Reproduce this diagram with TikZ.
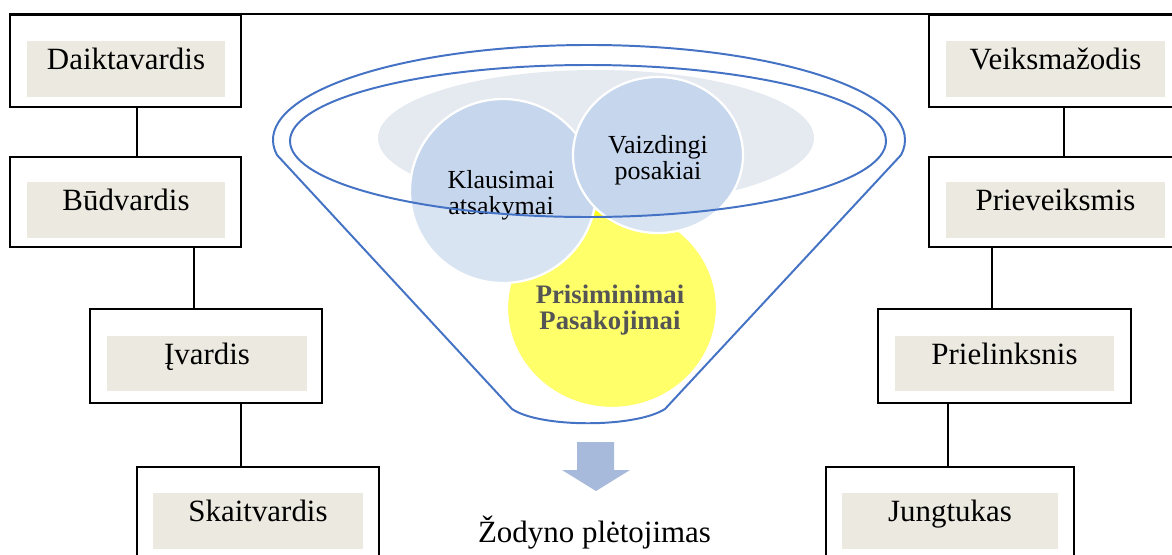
\documentclass[tikz,border=0pt]{standalone}
\usepackage{fontspec}
\setmainfont{Liberation Serif}
\usepackage{xcolor}
\usetikzlibrary{calc}
\definecolor{funnelblue}{RGB}{68,114,196}
\definecolor{bubbleblue}{RGB}{197,214,237}
\definecolor{bubbleyellow}{RGB}{255,255,25}
\definecolor{wordbeige}{RGB}{236,234,224}
\definecolor{haze}{RGB}{229,233,240}
\definecolor{arrowblue}{RGB}{167,186,219}
\definecolor{darktext}{RGB}{85,85,85}
\tikzset{
  wordbox/.style 2 args={draw, line width=1.2pt, inner sep=0pt, minimum width=#1, minimum height=#2},
  wordfill/.style={fill=wordbeige, inner sep=0pt, text height=20.6pt, text depth=19.2pt, minimum width=#1, font=\fontsize{22}{26}\selectfont},
  bubble/.style={draw=white, line width=1.6pt},
  bubbletext/.style={align=center, font=\fontsize{18.5}{18.5}\selectfont},
  link/.style={line width=1.2pt},
  rim/.style={draw=funnelblue, line width=1.4pt}
}

\begin{document}
\begin{tikzpicture}[x=0.025cm, y=-0.025cm]
    \useasboundingbox (0,0) rectangle (1172,554);
    \clip (0,0) rectangle (1172,554);

    % Word boxes on the left
    \node[wordbox={5.775cm}{2.3cm}] (daik) at (125.5,61) {};
    \node[wordfill=4.95cm] (daikt) at (126,69) {Daiktavardis};
    \node[wordbox={5.775cm}{2.25cm}] (budv) at (125.5,202) {};
    \node[wordfill=4.95cm] (budvt) at (126,210) {Būdvardis};
    \node[wordbox={5.8cm}{2.35cm}] (ivard) at (206,356) {};
    \node[wordfill=5cm] (ivardt) at (207,363.5) {Įvardis};
    \node[wordbox={6.05cm}{2.35cm}] (skait) at (258,514) {};
    \node[wordfill=5.25cm] (skaitt) at (258,521) {Skaitvardis};

    % Word boxes on the right
    \node[wordbox={6.1cm}{2.3cm}] (veik) at (1051,61) {};
    \node[wordfill=5.475cm] (veikt) at (1055.5,69) {Veiksmažodis};
    \node[wordbox={6.1cm}{2.25cm}] (priev) at (1051,202) {};
    \node[wordfill=5.475cm] (prievt) at (1055.5,210) {Prieveiksmis};
    \node[wordbox={6.325cm}{2.35cm}] (priel) at (1004.5,356) {};
    \node[wordfill=5.475cm] (prielt) at (1004.5,363.5) {Prielinksnis};
    \node[wordbox={6.2cm}{2.35cm}] (jung) at (950,514) {};
    \node[wordfill=5.4cm] (jungt) at (950,521) {Jungtukas};

    % Links between the boxes
    \draw[link] (daik.north west) -- (veik.north east);
    \draw[link] (137,0 |- daik.south) -- (137,0 |- budv.north);
    \draw[link] (194,0 |- budv.south) -- (194,0 |- ivard.north);
    \draw[link] (241,0 |- ivard.south) -- (241,0 |- skait.north);
    \draw[link] (1064,0 |- veik.south) -- (1064,0 |- priev.north);
    \draw[link] (992,0 |- priev.south) -- (992,0 |- priel.north);
    \draw[link] (948,0 |- priel.south) -- (948,0 |- jung.north);

    % Haze and bubbles in the funnel
    \fill[haze] (596,138) ellipse[x radius=218, y radius=68];
    \draw[bubble, fill=bubbleyellow] (612,308) ellipse[x radius=105, y radius=100];
    \draw[bubble, fill=bubbleblue] (503,191) ellipse[x radius=93, y radius=92];
    \draw[bubble, fill=bubbleblue] (658,155) ellipse[x radius=85, y radius=78];

    % Glass of the funnel
    \fill[white, opacity=0.35, even odd rule]
        (277,155) arc[start angle=170.9, end angle=369.1, x radius=316, y radius=95]
        -- (665,409) .. controls (635,428) and (540,428) .. (512,409) -- cycle
        (588,141) ellipse[x radius=298, y radius=76];

    % Bubble labels
    \node[bubbletext] (klaus) at (501,195) {Klausimai\\atsakymai};
    \node[bubbletext] (vaizd) at (658,160) {Vaizdingi\\posakiai};
    \node[bubbletext, font=\fontsize{19}{18.5}\selectfont\bfseries, text=darktext] (prisim) at (610,310) {Prisiminimai\\Pasakojimai};

    % Rim of the funnel
    \draw[rim] (277,155) arc[start angle=170.9, end angle=369.1, x radius=316, y radius=95]
        -- (665,409) .. controls (635,428) and (540,428) .. (512,409) -- cycle;
    \draw[rim] (588,141) ellipse[x radius=298, y radius=76];

    % Arrow and result
    \fill[arrowblue] (577,442) -- (614,442) -- (614,470) -- (630,470) -- (596,491) -- (562,470) -- (577,470) -- cycle;
    \node[font=\fontsize{22}{26}\selectfont, anchor=base] (zodyn) at (594.5,542) {Žodyno plėtojimas};
\end{tikzpicture}
\end{document}
